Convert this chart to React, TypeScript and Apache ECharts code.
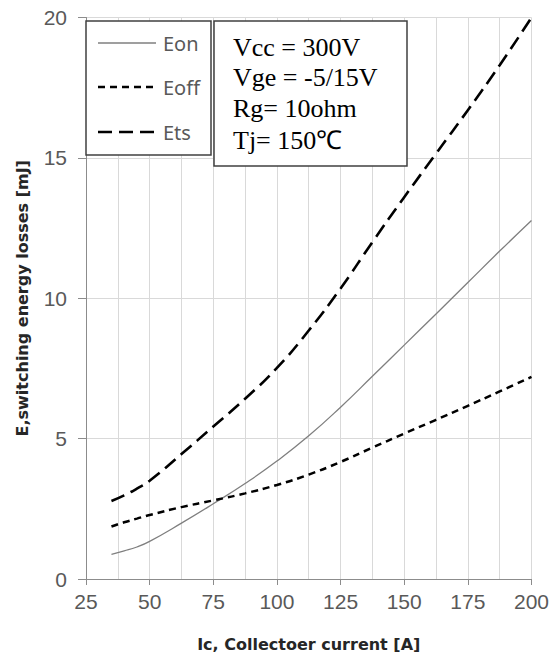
import React, { useEffect, useRef } from "react";
import * as echarts from "echarts";

const ic = [35, 40, 45, 50, 62.5, 75, 87.5, 100, 112.5, 125, 137.5, 150, 162.5, 175, 187.5, 200];
const eon = [0.88, 1.0, 1.14, 1.34, 1.99, 2.68, 3.4, 4.2, 5.1, 6.12, 7.22, 8.33, 9.44, 10.56, 11.68, 12.77];
const eoff = [1.87, 2.02, 2.15, 2.28, 2.56, 2.8, 3.05, 3.35, 3.72, 4.17, 4.68, 5.18, 5.67, 6.17, 6.68, 7.2];
const ets = [2.78, 2.98, 3.22, 3.5, 4.45, 5.43, 6.42, 7.52, 8.85, 10.35, 12.0, 13.6, 15.15, 16.7, 18.3, 20];
const seriesNames = ["Eon", "Eoff", "Ets"];
const conditions = ["Vcc = 300V", "Vge = -5/15V", "Rg= 10ohm", "Tj= 150℃"];

const pairs = (ys: number[]) => ic.map((x, i) => [x, ys[i]]);

export default function App() {
  const ref = useRef<HTMLDivElement>(null);
  useEffect(() => {
    if (!ref.current) return;
    document.body.style.margin = "0";
    const chart = echarts.init(ref.current, undefined, { renderer: "svg" });
    const styles = [
      { color: "#7f7f7f", width: 1.3, type: "solid" as any },
      { color: "#000000", width: 2.5, type: [7, 5] as any },
      { color: "#000000", width: 2.6, type: [14, 7] as any },
    ];
    const legendY = [43, 87, 132];
    const graphic: any[] = [
      {
        type: "rect",
        z: 100,
        shape: { x: 86, y: 21, width: 125, height: 134 },
        style: { fill: "#ffffff", stroke: "#404040", lineWidth: 1.5 },
      },
      {
        type: "rect",
        z: 100,
        shape: { x: 214, y: 21, width: 193, height: 145 },
        style: { fill: "#ffffff", stroke: "#404040", lineWidth: 1.5 },
      },
    ];
    seriesNames.forEach((n, i) => {
      graphic.push({
        type: "line",
        z: 101,
        shape: { x1: 98, y1: legendY[i], x2: 156, y2: legendY[i] },
        style: {
          stroke: styles[i].color,
          lineWidth: styles[i].width,
          lineDash: Array.isArray(styles[i].type) ? styles[i].type : null,
        },
      });
      graphic.push({
        type: "text",
        z: 101,
        x: 163,
        y: legendY[i],
        style: {
          text: n,
          fill: "#595959",
          font: '20px "Noto Sans"',
          verticalAlign: "middle",
        },
      });
    });
    const condY = [47, 77, 108, 140];
    conditions.forEach((t, i) => {
      graphic.push({
        type: "text",
        z: 101,
        x: 233,
        y: condY[i],
        style: {
          text: t,
          fill: "#000000",
          font: '26px "Liberation Serif"',
          verticalAlign: "middle",
        },
      });
    });

    chart.setOption({
      animation: false,
      backgroundColor: "#ffffff",
      grid: { left: 86, right: 19, top: 17.5, bottom: 76, containLabel: false },
      xAxis: {
        type: "value",
        min: 25,
        max: 200,
        interval: 25,
        name: "Ic, Collectoer current [A]",
        nameLocation: "middle",
        nameGap: 57,
        nameTextStyle: { fontFamily: "DejaVu Sans", fontWeight: "bold", fontSize: 16, color: "#262626" },
        axisLine: { show: true, lineStyle: { color: "#8c8c8c", width: 1 } },
        axisTick: { show: true, length: 6, lineStyle: { color: "#8c8c8c" } },
        axisLabel: { margin: 12, fontFamily: "Liberation Sans", fontSize: 21, color: "#595959" },
        splitLine: { show: true, lineStyle: { color: "#d9d9d9", width: 1 } },
        minorTick: { show: false, splitNumber: 2 },
        minorSplitLine: { show: true, lineStyle: { color: "#d9d9d9", width: 1 } },
      },
      yAxis: {
        type: "value",
        min: 0,
        max: 20,
        interval: 5,
        name: "E,switching energy losses [mJ]",
        nameLocation: "middle",
        nameGap: 56,
        nameTextStyle: { fontFamily: "DejaVu Sans", fontWeight: "bold", fontSize: 16, color: "#262626" },
        axisLine: { show: true, lineStyle: { color: "#8c8c8c", width: 1 } },
        axisTick: { show: true, length: 8, lineStyle: { color: "#8c8c8c" } },
        axisLabel: { margin: 19, fontFamily: "Liberation Sans", fontSize: 21, color: "#595959" },
        splitLine: { show: true, lineStyle: { color: "#d9d9d9", width: 1 } },
      },
      series: [eon, eoff, ets].map((d, i) => ({
        name: seriesNames[i],
        type: "line",
        data: pairs(d),
        smooth: 0.5,
        showSymbol: false,
        symbol: "none",
        lineStyle: styles[i],
        z: 10 + i,
      })),
      graphic,
    });
    return () => chart.dispose();
  }, []);
  return <div ref={ref} style={{ width: 552, height: 657 }} />;
}
